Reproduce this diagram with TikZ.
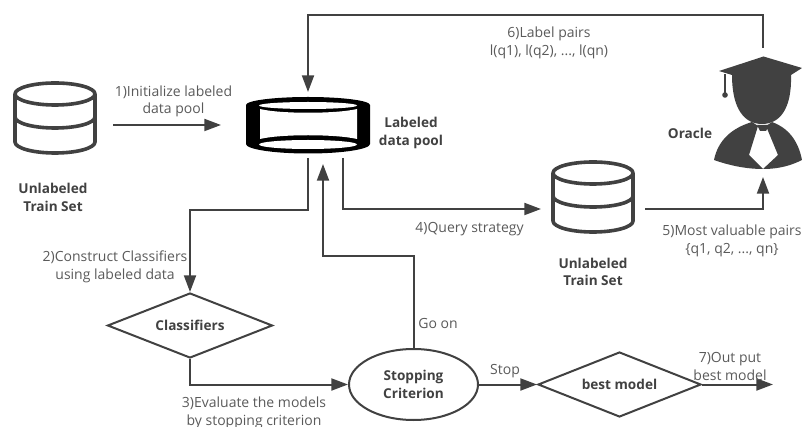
\documentclass[tikz,border=0pt]{standalone}
\usepackage{fontspec}
\setmainfont{Open Sans}
\usetikzlibrary{arrows.meta,shapes.geometric}
\definecolor{ink}{HTML}{414141}
\definecolor{txt}{HTML}{5A5A5A}
\tikzset{
  conn/.style={draw=ink,line width=1.5pt,line join=miter},
  arr/.style={conn,-{Triangle[length=12.5pt,width=9pt]}},
  lbl/.style={text=txt,font=\fontsize{10.5}{13.1}\selectfont,align=center,inner sep=0pt},
  bold/.style={text=ink,font=\fontsize{10.2}{13.1}\selectfont\bfseries,align=center,inner sep=0pt},
  dia/.style={diamond,draw=ink,line width=1.5pt,aspect=2.5,inner sep=0pt,text=ink,font=\fontsize{10.2}{13.1}\selectfont\bfseries},
  oval/.style={ellipse,draw=ink,line width=1.5pt,inner sep=0pt,text=ink,align=center,font=\fontsize{10.2}{13.1}\selectfont\bfseries},
  iconbox/.style={inner sep=0pt,outer sep=0pt},
  dbline/.style={draw=ink,line width=2.7pt,line cap=round,line join=round},
}
\newcommand{\dbicon}[2]{%
  \begin{scope}[shift={(#1,#2)}]
    \draw[dbline] (-40,-26) arc[x radius=40,y radius=11,start angle=180,end angle=540]
      -- (-40,22) arc[x radius=40,y radius=11,start angle=180,end angle=0] -- (40,-26);
    \draw[dbline] (-40,-3) arc[x radius=40,y radius=11,start angle=180,end angle=0];
  \end{scope}}
\begin{document}
\begin{tikzpicture}[x=0.75pt,y=-0.75pt]
\useasboundingbox (0,0) rectangle (802,427);
% icon anchor boxes
\node[iconbox,minimum width=75pt,minimum height=60pt] (dbA) at (63,125) {};
\node[iconbox,minimum width=130.5pt,minimum height=49.5pt] (lab) at (308,125) {};
\node[iconbox,minimum width=78pt,minimum height=54pt] (dbB) at (593,209) {};
\node[iconbox,minimum width=67.5pt,minimum height=96.75pt] (ora) at (763,112.5) {};
% cylinders
\dbicon{55}{120}
\dbicon{593}{199}
% labeled pool
\fill[black] (246,105) arc[x radius=62,y radius=8,start angle=180,end angle=360]
  -- (370,144) arc[x radius=62,y radius=9.5,start angle=0,end angle=180] -- cycle;
\fill[white] (308,105.5) ellipse[x radius=49,y radius=3.5];
\fill[white] (308,144.5) ellipse[x radius=49,y radius=4.5];
\fill[white] (260,109) .. controls (280,114) and (336,114) .. (357,109) -- (357,139)
  .. controls (336,134) and (280,134) .. (260,139) -- cycle;
% oracle
\fill[ink] (763.5,56.5) -- (719,71) -- (732,75) .. controls (732,110) and (745,124) .. (762,124)
  .. controls (779,124) and (792,110) .. (791,75) -- (802,68) -- cycle;
\draw[ink,line width=1.2pt] (725,74) -- (725,95);
\fill[ink] (725,95) circle[radius=2.8];
\fill[ink] (714,160) .. controls (718,140) and (732,128) .. (752,122)
  -- (758,126) -- (749,155) -- (763,169) .. controls (745,169) and (728,165) .. (714,160) -- cycle;
\fill[ink] (802,160) .. controls (798,140) and (788,128) .. (772,122)
  -- (766,126) -- (778,155) -- (763,169) .. controls (780,169) and (792,165) .. (802,160) -- cycle;
\fill[ink] (757,125) -- (769,125) -- (766,131) -- (760,131) -- cycle;
% flow nodes
\node[dia,minimum width=123.75pt,minimum height=48.75pt] (cls) at (190,325.5) {Classifiers};
\node[oval,minimum width=96.75pt,minimum height=53.25pt] (stop) at (413.5,384.5) {Stopping\\Criterion};
\node[dia,minimum width=122.25pt,minimum height=48.75pt] (best) at (619.5,384.5) {best model};
\coordinate (outEnd) at (773,384.5);
% connectors
\draw[arr] (dbA.east) -- (lab.west);
\draw[arr] (ora.north) -- ++(0,-33) -| (lab.north);
\draw[arr] (lab.south) -- ++(0,52) -| (cls.north);
\draw[arr] (cls.south) |- (stop.west);
\draw[arr] (stop.north) -- ++(0,-92) -| ([xshift=11.25pt,yshift=-4.5pt]lab.south);
\draw[arr] ([xshift=26.25pt]lab.south) |- (dbB.west);
\draw[arr] (dbB.east) -| (ora.south);
\draw[arr] (stop.east) -- (best.west);
\draw[arr] (best.east) -- (outEnd);
% labels
\node[lbl] (t1) at (173.5,101.5) {1)Initialize labeled\\data pool};
\node[bold] (t2) at (411,133) {Labeled\\data pool};
\node[bold] (t3) at (53,197.5) {Unlabeled\\Train Set};
\node[lbl] (t4) at (549,43) {6)Label pairs\\l(q1), l(q2), ..., l(qn)};
\node[bold] (t5) at (690,133) {Oracle};
\node[bold] (t6) at (593,272) {Unlabeled\\Train Set};
\node[lbl] (t7) at (469.5,229) {4)Query strategy};
\node[lbl] (t8) at (732,241) {5)Most valuable pairs\\\{q1, q2, ..., qn\}};
\node[lbl] (t9) at (115,267) {2)Construct Classifiers\\using labeled data};
\node[lbl] (t10) at (254,413) {3)Evaluate the models\\by stopping criterion};
\node[lbl] (t11) at (438,323) {Go on};
\node[lbl] (t12) at (505,371) {Stop};
\node[lbl] (t13) at (730,366.5) {7)Out put\\best model};
\end{tikzpicture}
\end{document}
